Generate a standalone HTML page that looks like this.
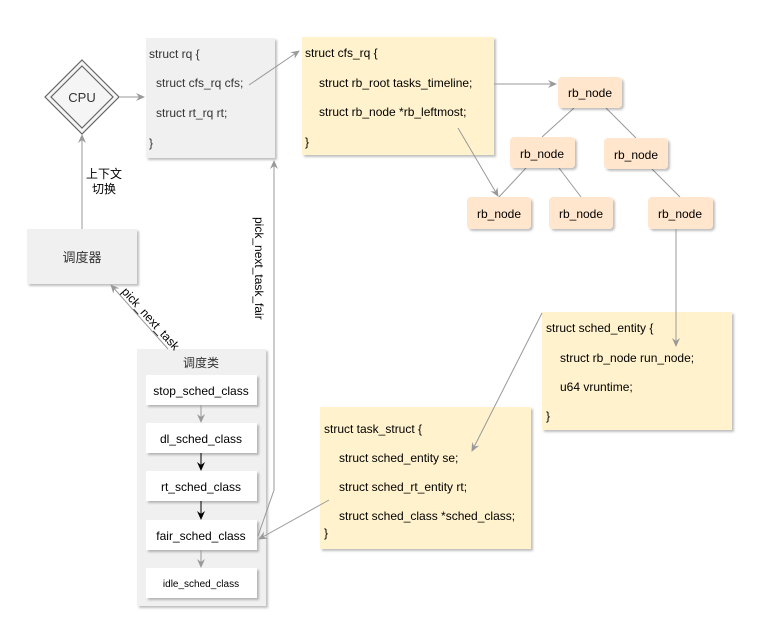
<!DOCTYPE html>
<html><head><meta charset="utf-8"><style>
html,body{margin:0;padding:0;background:#fff;}
svg{display:block;font-family:"Liberation Sans","Noto Sans CJK SC",sans-serif;}
</style></head><body>
<svg width="772" height="621" viewBox="0 0 772 621" xmlns="http://www.w3.org/2000/svg">
<defs>
<marker id="ag" markerWidth="10" markerHeight="10" refX="8" refY="5" orient="auto" markerUnits="userSpaceOnUse"><path d="M0,1 L9,5 L0,9 L3,5 z" fill="#999"/></marker>
<marker id="ab" markerWidth="10" markerHeight="10" refX="8" refY="5" orient="auto" markerUnits="userSpaceOnUse"><path d="M0,1 L9,5 L0,9 L3,5 z" fill="#000"/></marker>
<filter id="sh" x="-10%" y="-10%" width="130%" height="130%"><feDropShadow dx="2" dy="2" stdDeviation="1" flood-color="#000" flood-opacity="0.25"/></filter>
</defs>

<!-- CPU -->
<polygon points="82,60 119,97 82,134 45,97" fill="#f5f5f5" stroke="#666" stroke-width="1.2"/>
<polygon points="82,66 113,97 82,128 51,97" fill="#f5f5f5" stroke="#666" stroke-width="1.2"/>
<text x="82" y="102" font-size="13" text-anchor="middle" fill="#333">CPU</text>

<!-- rq -->
<rect x="146" y="38" width="129" height="120" fill="#f0f0f0" filter="url(#sh)"/>
<g font-size="12" fill="#333">
<text x="149" y="58">struct rq {</text>
<text x="156" y="87">struct cfs_rq cfs;</text>
<text x="156" y="117">struct rt_rq rt;</text>
<text x="149" y="147">}</text>
</g>

<!-- cfs_rq -->
<rect x="302" y="37" width="192" height="118" fill="#fff2cc" filter="url(#sh)"/>
<g font-size="12" fill="#000">
<text x="305" y="57">struct cfs_rq {</text>
<text x="319" y="87">struct rb_root tasks_timeline;</text>
<text x="319" y="116">struct rb_node *rb_leftmost;</text>
<text x="305" y="146">}</text>
</g>

<!-- tree lines -->
<g stroke="#999">
<line x1="574" y1="108" x2="542" y2="137"/>
<line x1="606" y1="108" x2="636" y2="138"/>
<line x1="526" y1="168" x2="499" y2="197"/>
<line x1="559" y1="168" x2="581" y2="197"/>
<line x1="652" y1="169" x2="680" y2="197"/>
</g>
<g font-size="12" fill="#000" text-anchor="middle">
<rect x="558" y="77" width="64" height="31" rx="4" fill="#ffe6cc" filter="url(#sh)"/><text x="590" y="97">rb_node</text>
<rect x="510" y="137" width="65" height="31" rx="4" fill="#ffe6cc" filter="url(#sh)"/><text x="542" y="158">rb_node</text>
<rect x="604" y="138" width="64" height="31" rx="4" fill="#ffe6cc" filter="url(#sh)"/><text x="636" y="159">rb_node</text>
<rect x="467" y="197" width="64" height="32" rx="4" fill="#ffe6cc" filter="url(#sh)"/><text x="499" y="218">rb_node</text>
<rect x="549" y="197" width="64" height="32" rx="4" fill="#ffe6cc" filter="url(#sh)"/><text x="581" y="218">rb_node</text>
<rect x="648" y="197" width="65" height="32" rx="4" fill="#ffe6cc" filter="url(#sh)"/><text x="680" y="218">rb_node</text>
</g>

<!-- sched_entity -->
<rect x="542" y="312" width="190" height="118" fill="#fff2cc" filter="url(#sh)"/>
<g font-size="12" fill="#000">
<text x="546" y="332">struct sched_entity {</text>
<text x="560" y="362">struct rb_node run_node;</text>
<text x="560" y="391">u64 vruntime;</text>
<text x="546" y="420">}</text>
</g>

<!-- task_struct -->
<rect x="320" y="407" width="211" height="142" fill="#fff2cc" filter="url(#sh)"/>
<g font-size="12" fill="#000">
<text x="324" y="433">struct task_struct {</text>
<text x="339" y="462">struct sched_entity se;</text>
<text x="339" y="491">struct sched_rt_entity rt;</text>
<text x="339" y="520">struct sched_class *sched_class;</text>
<text x="324" y="537">}</text>
</g>

<!-- 调度器 -->
<rect x="27" y="229" width="110" height="55" fill="#f0f0f0" filter="url(#sh)"/>
<text x="82" y="262" font-size="13" text-anchor="middle" fill="#333">调度器</text>
<text x="104" y="178" font-size="12" text-anchor="middle" fill="#000">上下文</text>
<text x="104" y="193" font-size="12" text-anchor="middle" fill="#000">切换</text>

<!-- 调度类 -->
<rect x="137" y="349" width="129" height="257" fill="#f0f0f0" filter="url(#sh)"/>
<text x="201" y="367" font-size="12" text-anchor="middle" fill="#333">调度类</text>
<g font-size="12" fill="#000" text-anchor="middle">
<rect x="146" y="375" width="111" height="30" fill="#fff" filter="url(#sh)"/><text x="201" y="395">stop_sched_class</text>
<rect x="146" y="423" width="111" height="30" fill="#fff" filter="url(#sh)"/><text x="201" y="443">dl_sched_class</text>
<rect x="146" y="471" width="111" height="30" fill="#fff" filter="url(#sh)"/><text x="201" y="491">rt_sched_class</text>
<rect x="146" y="520" width="111" height="30" fill="#fff" filter="url(#sh)"/><text x="201" y="540">fair_sched_class</text>
<rect x="146" y="568" width="111" height="30" fill="#fff" filter="url(#sh)"/><text x="201" y="587" font-size="10">idle_sched_class</text>
</g>

<!-- connectors on top -->
<line x1="119" y1="97" x2="144" y2="97" stroke="#999" marker-end="url(#ag)"/>
<line x1="249" y1="85" x2="299" y2="51" stroke="#999" marker-end="url(#ag)"/>
<line x1="494" y1="84" x2="556" y2="84" stroke="#999" marker-end="url(#ag)"/>
<line x1="458" y1="128" x2="498" y2="196" stroke="#999" marker-end="url(#ag)"/>
<line x1="676" y1="229" x2="676" y2="346" stroke="#999" marker-end="url(#ag)"/>
<line x1="542" y1="313" x2="472" y2="451" stroke="#999" marker-end="url(#ag)"/>
<line x1="329" y1="500" x2="259" y2="539" stroke="#999" marker-end="url(#ag)"/>
<line x1="82" y1="229" x2="82" y2="135" stroke="#999" marker-end="url(#ag)"/>
<line x1="168" y1="349" x2="111" y2="285" stroke="#999" marker-end="url(#ag)"/>
<text transform="translate(121,292) rotate(48)" font-size="12" fill="#000">pick_next_task</text>
<polyline points="258,536 274,490 274,161" fill="none" stroke="#999" marker-end="url(#ag)"/>
<text transform="translate(255,217) rotate(90)" font-size="12" fill="#000">pick_next_task_fair</text>
<line x1="201" y1="405" x2="201" y2="422" stroke="#999" marker-end="url(#ag)"/>
<line x1="201" y1="453" x2="201" y2="470" stroke="#000" marker-end="url(#ab)"/>
<line x1="201" y1="501" x2="201" y2="519" stroke="#000" marker-end="url(#ab)"/>
<line x1="201" y1="550" x2="201" y2="567" stroke="#999" marker-end="url(#ag)"/>
</svg>
</body></html>
